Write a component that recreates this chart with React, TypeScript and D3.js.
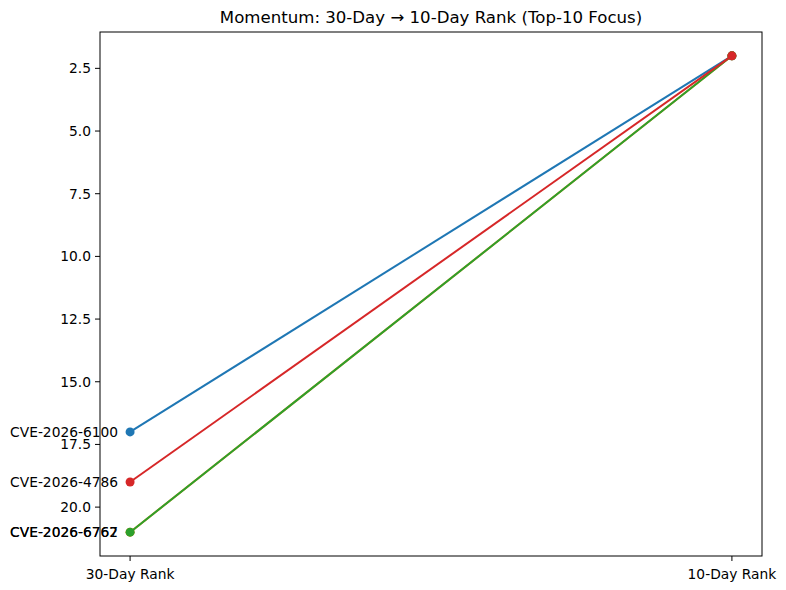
import { useEffect } from "react";
import * as d3 from "d3";

const stages = ["30-Day Rank", "10-Day Rank"];
const cves = ["CVE-2026-6100", "CVE-2026-6767", "CVE-2026-6762", "CVE-2026-4786"];
const rank30 = [17, 21, 21, 19];
const rank10 = [2, 2, 2, 2];
const colors = ["#1f77b4", "#ff7f0e", "#2ca02c", "#d62728"];
const yTicks = [2.5, 5.0, 7.5, 10.0, 12.5, 15.0, 17.5, 20.0];

const W = 786;
const H = 590;
const m = { top: 32, right: 24, bottom: 34, left: 100 };
const font = "DejaVu Sans, sans-serif";
const fs = 13.8;

export default function App() {
  useEffect(() => {
    document.body.style.margin = "0";
  }, []);

  const x = d3
    .scaleLinear()
    .domain([-0.05, 1.05])
    .range([m.left, W - m.right]);
  const all = [...rank30, ...rank10];
  const lo = d3.min(all)!;
  const hi = d3.max(all)!;
  const pad = (hi - lo) * 0.05;
  // inverted: rank 1 at top
  const y = d3
    .scaleLinear()
    .domain([lo - pad, hi + pad])
    .range([m.top, H - m.bottom]);

  const line = d3
    .line<number>()
    .x((_, i) => x(i))
    .y((d) => y(d));

  return (
    <svg width={W} height={H} style={{ display: "block", fontFamily: font }}>
      <rect x={0} y={0} width={W} height={H} fill="#fff" />
      <text x={(m.left + W - m.right) / 2} y={23} textAnchor="middle" fontSize={16.6}>
        Momentum: 30-Day → 10-Day Rank (Top-10 Focus)
      </text>

      {cves.map((c, i) => {
        const vals = [rank30[i], rank10[i]];
        return (
          <g key={c}>
            <path d={line(vals) ?? ""} fill="none" stroke={colors[i]} strokeWidth={2} />
            {vals.map((v, j) => (
              <circle key={j} cx={x(j)} cy={y(v)} r={4.5} fill={colors[i]} />
            ))}
            <text
              x={x(0) - 12}
              y={y(rank30[i])}
              dy="0.35em"
              textAnchor="end"
              fontSize={fs}
              fill="#000"
            >
              {c}
            </text>
          </g>
        );
      })}

      {/* axes frame */}
      <rect
        x={m.left}
        y={m.top}
        width={W - m.left - m.right}
        height={H - m.top - m.bottom}
        fill="none"
        stroke="#000"
        strokeWidth={1}
      />

      {yTicks.map((t) => (
        <g key={t} transform={`translate(${m.left},${y(t)})`}>
          <line x1={-5} x2={0} stroke="#000" />
          <text x={-9} dy="0.35em" textAnchor="end" fontSize={fs}>
            {t.toFixed(1)}
          </text>
        </g>
      ))}

      {stages.map((s, i) => (
        <g key={s} transform={`translate(${x(i)},${H - m.bottom})`}>
          <line y1={0} y2={5} stroke="#000" />
          <text y={23} textAnchor="middle" fontSize={fs}>
            {s}
          </text>
        </g>
      ))}
    </svg>
  );
}
